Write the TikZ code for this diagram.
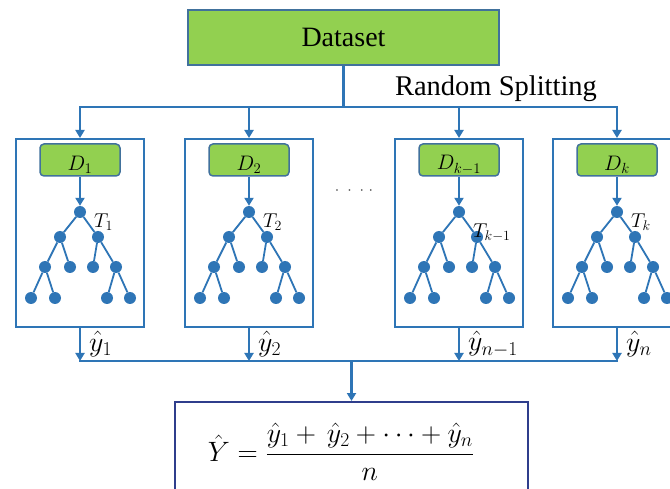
\RequirePackage{fix-cm}
\documentclass[tikz,border=0pt]{standalone}
\usepackage{amsmath}
\usepackage{fontspec}
\setmainfont{Liberation Serif}
\usetikzlibrary{arrows.meta,positioning}

\definecolor{lineblue}{RGB}{46,117,182}
\definecolor{treeblue}{RGB}{46,117,182}
\definecolor{leafgreen}{RGB}{146,208,80}
\definecolor{edgeblue}{RGB}{65,113,156}
\definecolor{navyblue}{RGB}{47,62,140}

\tikzset{
	wire/.style={draw=lineblue,line width=2.6pt},
	flow/.style={wire,-{Triangle[length=8pt,width=9pt]}},
	dataset/.style={draw=edgeblue,fill=leafgreen,line width=1.5pt,minimum width=311,minimum height=55,inner sep=0,font=\fontsize{28}{32}\selectfont},
	bag/.style={draw=lineblue,line width=2pt,minimum width=128,minimum height=188,inner sep=0},
	subset/.style={draw=edgeblue,fill=leafgreen,line width=1.5pt,rounded corners=4pt,minimum width=80,minimum height=32,inner sep=0},
	leaf/.style={circle,fill=treeblue,inner sep=0,minimum size=12},
	branch/.style={draw=treeblue,line width=1.8pt},
	result/.style={draw=navyblue,line width=2pt,minimum width=353,minimum height=100,inner sep=0,font=\fontsize{28}{32}\selectfont}
}

\begin{document}
\begin{tikzpicture}[x=1pt,y=-1pt]
	\clip (0,0) rectangle (670,489);
	\fill[white] (0,0) rectangle (670,489);
	
	\node[dataset] (data) at (343.5,37.5) {Dataset};
	\node[font=\fontsize{28.5}{32}\selectfont] (split) at (496,89) {Random Splitting};
	\node[text=darkgray,font=\fontsize{16}{18}\selectfont] (gap) at (354,191) {$\cdot\;\cdot\;\cdot\;\cdot$};
	\node[result] (res) at (351.5,452) {};
	\node[font=\fontsize{28}{32}\selectfont] (avg) at (341,452) {$\hat{Y}=\dfrac{\hat{y}_1+\,\hat{y}_2+\cdots+\hat{y}_n}{n}$};
	
	% one column per subset: box, subset, tree, output
	\foreach \i/\cx/\d/\t/\ty/\y in {1/80/{D_1}/{T_1}/222/{\hat{y}_1},
		2/249/{D_2}/{T_2}/222/{\hat{y}_2},
		3/459/{D_{k-1}}/{T_{k-1}}/233/{\hat{y}_{n-1}},
		4/617/{D_k}/{T_k}/222/{\hat{y}_n}}{
		\coordinate (s\i) at (\cx,107);
		\coordinate (m\i) at (\cx,361);
		\node[bag] (box\i) at (\cx,233) {};
		\node[subset] (d\i) at (\cx,160) {};
		\node[font=\fontsize{21}{24}\selectfont] (dl\i) at (\cx,165) {$\d$};
		\begin{scope}[shift={(\cx,0)}]
			\node[leaf] (r\i) at (0,212) {};
			\node[leaf] (a\i) at (-20,237) {};
			\node[leaf] (b\i) at (18,237) {};
			\node[leaf] (aa\i) at (-35,267) {};
			\node[leaf] (ab\i) at (-10,267) {};
			\node[leaf] (ba\i) at (13,267) {};
			\node[leaf] (bb\i) at (36,267) {};
			\node[leaf] (aaa\i) at (-49,298) {};
			\node[leaf] (aab\i) at (-25,298) {};
			\node[leaf] (bba\i) at (27,298) {};
			\node[leaf] (bbb\i) at (50,298) {};
		\end{scope}
		\draw[branch] (r\i) -- (a\i);
		\draw[branch] (r\i) -- (b\i);
		\draw[branch] (a\i) -- (aa\i);
		\draw[branch] (a\i) -- (ab\i);
		\draw[branch] (b\i) -- (ba\i);
		\draw[branch] (b\i) -- (bb\i);
		\draw[branch] (aa\i) -- (aaa\i);
		\draw[branch] (aa\i) -- (aab\i);
		\draw[branch] (bb\i) -- (bba\i);
		\draw[branch] (bb\i) -- (bbb\i);
		\node[anchor=west,font=\fontsize{20}{23}\selectfont,inner sep=0] (tl\i) at (\cx+14,\ty) {$\t$};
		\draw[flow] (s\i) -- (box\i.north);
		\draw[flow] (d\i.south) -- (r\i.north);
		\draw[flow] (box\i.south) -- (m\i);
		\node[anchor=west,font=\fontsize{28}{32}\selectfont,inner sep=0] (yl\i) at (\cx+9,344) {$\y$};
	}
	
	\draw[wire] (data.south) -- (data.south |- s1);
	\draw[wire,line cap=rect] (s1) -- (s4);
	\draw[wire,line cap=rect] (m1) -- (m4);
	\draw[flow] (m1 -| res.north) -- (res.north);
\end{tikzpicture}
\end{document}
